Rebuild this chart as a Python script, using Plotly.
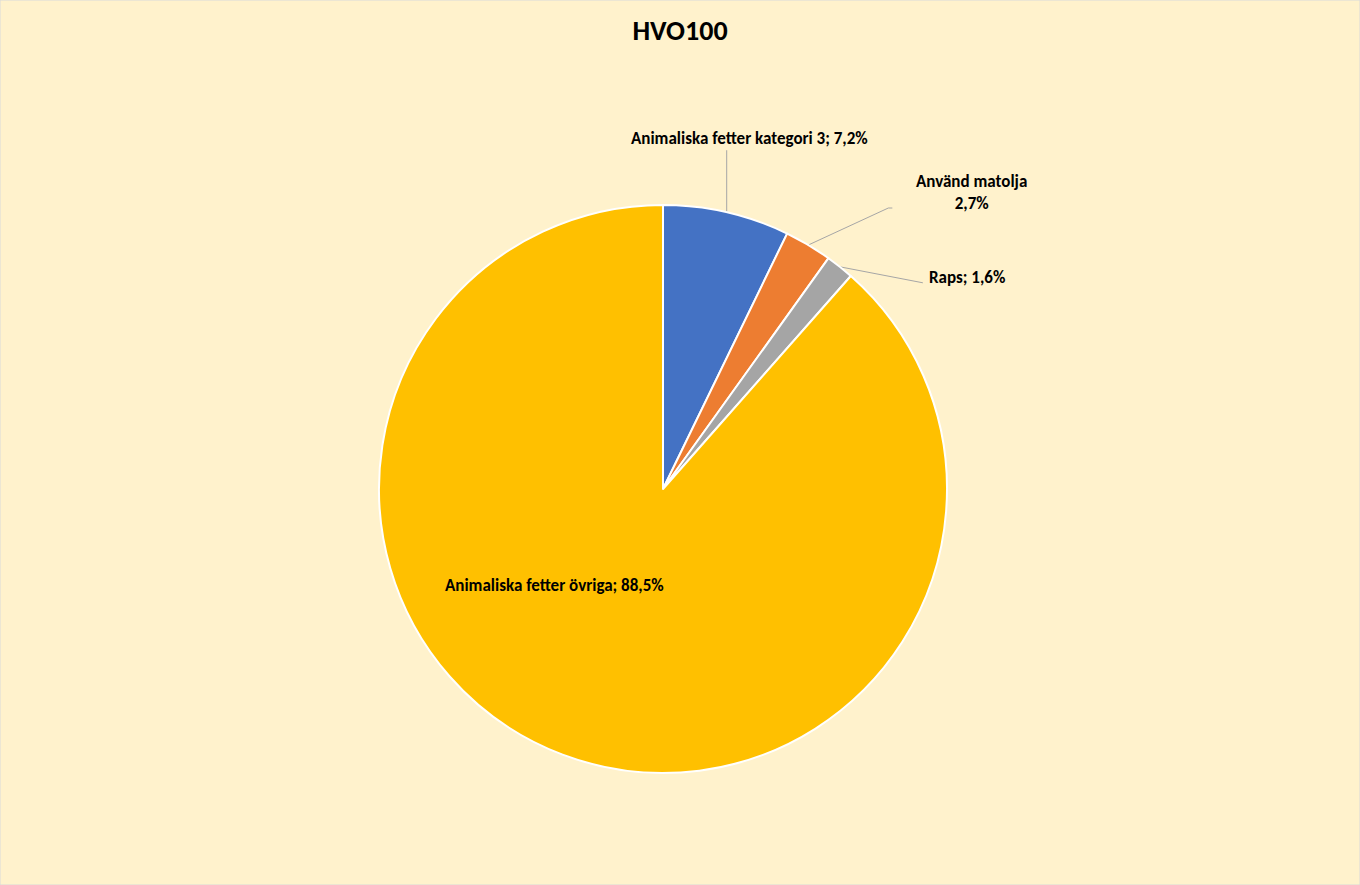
import math
import plotly.graph_objects as go

# ---- data ----
title_text = "HVO100"
categories = ["Animaliska fetter kategori 3", "Använd matolja", "Raps", "Animaliska fetter övriga"]
values = [7.2, 2.7, 1.6, 88.5]
slice_colors = ["#4472C4", "#ED7D31", "#A5A5A5", "#FFC000"]

# ---- layout constants (pixels) ----
W, H = 1360, 885
CX, CY, R = 663, 489, 284
BG = "#FFF2CC"
FONT = "Carlito, Lato, Calibri, sans-serif"

# label placement per slice: line bends and text offsets relative to the slice's edge midpoint
label_styles = [
    dict(line=[(0, -62)], text=(23, -74), xanchor="center", sep="; "),
    dict(line=[(80, -37), (84, -37)], text=(163, -53), xanchor="center", sep="<br>"),
    dict(line=[(83, 16)], text=(87, 11), xanchor="left", sep="; "),
    dict(line=None, text=None, abs_text=(554, 585), xanchor="center", sep="; "),
]

fig = go.Figure()

fig.add_trace(go.Pie(
    labels=categories,
    values=values,
    sort=False,
    direction="clockwise",
    rotation=0,
    marker=dict(colors=slice_colors, line=dict(color="white", width=2)),
    textinfo="none",
    hoverinfo="label+percent",
    showlegend=False,
    domain=dict(x=[(CX - R) / W, (CX + R) / W], y=[(H - CY - R) / H, (H - CY + R) / H]),
))

total = sum(values)
cum = 0.0
annotations = []
for cat, val, st in zip(categories, values, label_styles):
    mid = (cum + val / 2) / total * 2 * math.pi
    cum += val
    ex = CX + R * math.sin(mid)
    ey = CY - R * math.cos(mid)
    pct = f"{val / total * 100:.1f}%".replace(".", ",")
    txt = f"<b>{cat}{st['sep']}{pct}</b>"
    if st["line"]:
        xs = [ex] + [ex + dx for dx, dy in st["line"]]
        ys = [ey] + [ey + dy for dx, dy in st["line"]]
        fig.add_trace(go.Scatter(x=xs, y=ys, mode="lines",
                                 line=dict(color="#A6A6A6", width=1),
                                 hoverinfo="skip", showlegend=False))
        tx, ty = ex + st["text"][0], ey + st["text"][1]
    else:
        tx, ty = st["abs_text"]
    annotations.append(dict(x=tx, y=ty, xref="x", yref="y", text=txt, showarrow=False,
                            xanchor=st["xanchor"], yanchor="middle", align="center",
                            font=dict(family=FONT, size=17, color="#000000")))

fig.update_layout(
    width=W, height=H,
    margin=dict(l=0, r=0, t=0, b=0),
    paper_bgcolor=BG, plot_bgcolor="rgba(0,0,0,0)",
    title=dict(text=f"<b>{title_text}</b>", x=0.5, xanchor="center", y=1 - 30 / H, yanchor="middle",
               font=dict(family=FONT, size=28, color="#000000")),
    xaxis=dict(range=[0, W], visible=False, fixedrange=True, domain=[0, 1]),
    yaxis=dict(range=[H, 0], visible=False, fixedrange=True, domain=[0, 1]),
    annotations=annotations,
    shapes=[dict(type="rect", xref="paper", yref="paper", x0=0, y0=0, x1=1, y1=1,
                 line=dict(color="#D9D9D9", width=1), fillcolor="rgba(0,0,0,0)")],
)

fig.write_html("out.html", config={"displayModeBar": False},
               post_script="document.body.style.margin='0';")
